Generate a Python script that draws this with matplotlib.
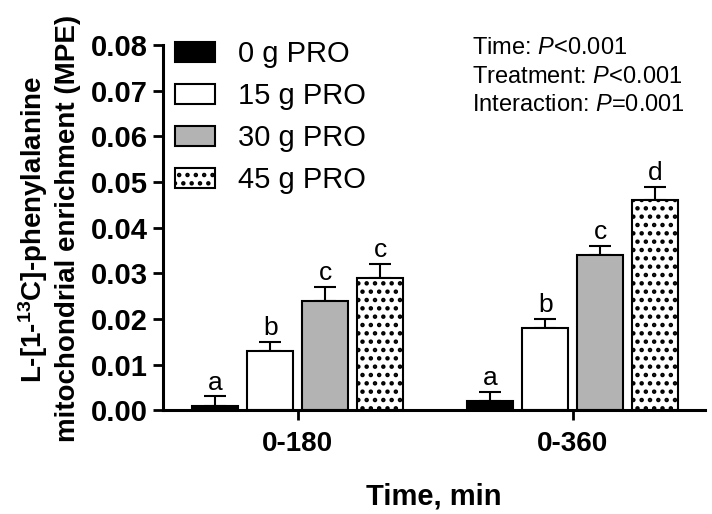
import matplotlib.pyplot as plt
import numpy as np

plt.rcParams['font.family'] = ['Liberation Sans', 'DejaVu Sans']
plt.rcParams['mathtext.fontset'] = 'custom'
plt.rcParams['mathtext.it'] = 'Liberation Sans:italic'
plt.rcParams['mathtext.rm'] = 'Liberation Sans'
plt.rcParams['mathtext.bf'] = 'Liberation Sans:bold'
plt.rcParams['hatch.linewidth'] = 2.0

groups = ['0-180', '0-360']
treatments = ['0 g PRO', '15 g PRO', '30 g PRO', '45 g PRO']
means = {
    '0 g PRO': [0.001, 0.002],
    '15 g PRO': [0.013, 0.018],
    '30 g PRO': [0.024, 0.034],
    '45 g PRO': [0.029, 0.046],
}
errors = {
    '0 g PRO': [0.002, 0.002],
    '15 g PRO': [0.002, 0.002],
    '30 g PRO': [0.003, 0.002],
    '45 g PRO': [0.003, 0.003],
}
letters = {
    '0 g PRO': ['a', 'a'],
    '15 g PRO': ['b', 'b'],
    '30 g PRO': ['c', 'c'],
    '45 g PRO': ['c', 'd'],
}
colors = ['black', 'white', '#b3b3b3', 'white']
hatches = [None, None, None, '..']

fig = plt.figure(figsize=(7.12, 5.14), dpi=100)
ax = fig.add_axes([0.229, 0.202, 0.761, 0.71])

centers = np.array([0, 5.0])
width = 0.84
for i, t in enumerate(treatments):
    x = centers + (i - 1.5)
    ax.bar(x, means[t], width, color=colors[i], edgecolor='black', linewidth=1.5,
           hatch=hatches[i], label=t, zorder=2)
    ax.errorbar(x, means[t], yerr=[[0, 0], errors[t]], fmt='none', ecolor='black',
                elinewidth=1.5, capsize=8, capthick=1.5, zorder=1)
    for xi, m, e, l in zip(x, means[t], errors[t], letters[t]):
        ax.text(xi, m + e + 0.0004, l, ha='center', va='bottom', fontsize=19)

ax.set_ylim(0, 0.08)
ax.set_xlim(-2.45, 7.4)
ax.set_yticks(np.arange(0, 0.081, 0.01))
ax.set_yticklabels(['%.2f' % v for v in np.arange(0, 0.081, 0.01)], fontsize=21, fontweight='bold')
ax.set_xticks(centers)
ax.set_xticklabels(groups, fontsize=20, fontweight='bold')
ax.tick_params(axis='both', width=2, length=7, direction='out')
ax.tick_params(axis='y', pad=4)
ax.tick_params(axis='x', pad=8)
for s in ['top', 'right']:
    ax.spines[s].set_visible(False)
for s in ['left', 'bottom']:
    ax.spines[s].set_linewidth(2.2)

ax.set_xlabel('Time, min', fontsize=21, fontweight='bold', labelpad=18)
fig.text(0.046, 0.553, 'L-[1-$^{\\mathbf{13}}$C]-phenylalanine', rotation=90, ha='center', va='center',
         fontsize=20, fontweight='bold')
fig.text(0.096, 0.556, 'mitochondrial enrichment (MPE)', rotation=90, ha='center', va='center',
         fontsize=20, fontweight='bold')

ax.legend(loc='upper left', bbox_to_anchor=(0.0, 1.045), frameon=False, fontsize=21,
          handlelength=1.38, handleheight=0.69, handletextpad=0.8, labelspacing=0.48,
          borderaxespad=0)

fig.text(0.663, 0.907, 'Time: $\\it{P}$<0.001', fontsize=17, va='center')
fig.text(0.663, 0.851, 'Treatment: $\\it{P}$<0.001', fontsize=17, va='center')
fig.text(0.663, 0.796, 'Interaction: $\\it{P}$=0.001', fontsize=17, va='center')

plt.savefig('out.png', dpi=100)
